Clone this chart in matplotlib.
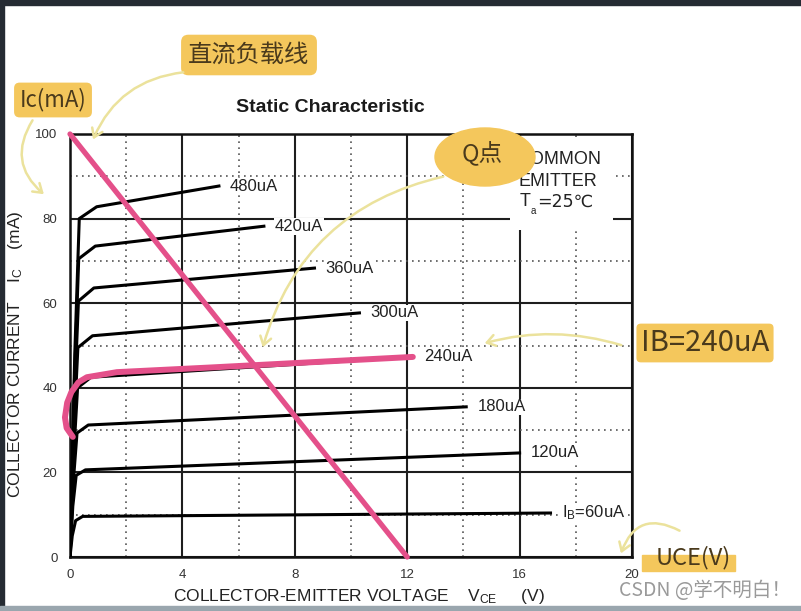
import matplotlib
matplotlib.use("Agg")
import matplotlib.pyplot as plt
from matplotlib.patches import Ellipse, FancyArrowPatch, Rectangle

plt.rcParams['font.family'] = ['Liberation Sans', 'DejaVu Sans']
plt.rcParams['mathtext.fontset'] = 'custom'
plt.rcParams['mathtext.rm'] = 'Liberation Sans'
plt.rcParams['mathtext.it'] = 'Liberation Sans'

# ---------------- data ----------------
ib_labels = [r'I$_\mathrm{B}$=60uA', '120uA', '180uA', '240uA',
             '300uA', '360uA', '420uA', '480uA']
curve_v = [
    [0.0, 0.08, 0.2, 0.45, 17.1],
    [0.0, 0.10, 0.22, 0.55, 16.0],
    [0.0, 0.12, 0.25, 0.65, 14.1],
    [0.0, 0.13, 0.27, 0.75, 12.2],
    [0.0, 0.14, 0.28, 0.80, 10.3],
    [0.0, 0.15, 0.30, 0.85, 8.7],
    [0.0, 0.16, 0.31, 0.90, 6.9],
    [0.0, 0.17, 0.33, 0.95, 5.3],
]
curve_i = [
    [0.0, 5.0, 8.6, 9.6, 10.4],
    [0.0, 12.0, 19.3, 20.6, 24.6],
    [0.0, 18.0, 29.3, 31.2, 35.5],
    [0.0, 24.0, 40.0, 42.5, 47.3],
    [0.0, 30.0, 49.5, 52.3, 57.7],
    [0.0, 36.0, 60.5, 63.6, 68.3],
    [0.0, 42.0, 70.5, 73.5, 78.2],
    [0.0, 48.0, 80.0, 82.8, 87.7],
]
# highlighted IB = 240uA curve (pink)
q_v = [0.1, -0.12, -0.18, -0.1, 0.05, 0.3, 0.6, 1.67, 5.0, 12.2]
q_i = [28.4, 30.5, 33.0, 36.5, 39.0, 41.3, 42.5, 43.7, 44.8, 47.3]
# DC load line
load_v = [0.0, 12.0]
load_i = [100.0, 0.0]

x_major = [0, 4, 8, 12, 16, 20]
x_minor = [2, 6, 10, 14, 18]
y_major = [0, 20, 40, 60, 80, 100]
y_minor = [10, 30, 50, 70, 90]

# ---------------- figure ----------------
W, H = 801, 611
fig = plt.figure(figsize=(W / 100, H / 100), dpi=100)
fig.patch.set_facecolor('white')


def px(x, y):
    return (x / W, 1 - y / H)


# screenshot frame
fig.add_artist(Rectangle((0, 1 - 5 / H), 1, 5 / H, transform=fig.transFigure,
                         color='#252b33', zorder=0))
fig.add_artist(Rectangle((0, 0), 4 / W, 1, transform=fig.transFigure,
                         color='#252b33', zorder=0))
fig.add_artist(Rectangle((0, 0), 1, 5 / H, transform=fig.transFigure,
                         color='#9aa6ae', zorder=0))

AX_L, AX_T, AX_W, AX_H = 70, 134, 562, 423
ax = fig.add_axes([AX_L / W, 1 - (AX_T + AX_H) / H, AX_W / W, AX_H / H])


def axf(x, y):
    return ((x - AX_L) / AX_W, (AX_T + AX_H - y) / AX_H)


ax.set_xlim(0, 20)
ax.set_ylim(0, 100)
ax.set_xticks(x_major)
ax.set_xticks(x_minor, minor=True)
ax.set_yticks(y_major)
ax.set_yticks(y_minor, minor=True)
ax.tick_params(which='both', length=0, labelsize=9.5, labelcolor='#333333')
ax.tick_params(axis='x', pad=9)
ax.tick_params(axis='y', pad=9)
ax.grid(which='major', color='#1e1e1e', lw=1.5, ls='-')
ax.grid(which='minor', color='#555555', lw=1.2, ls=(0, (1, 2.6)))
ax.set_axisbelow(True)
for s in ax.spines.values():
    s.set_linewidth(1.8)
    s.set_color('#111111')

for v, i, lab in zip(curve_v, curve_i, ib_labels):
    ax.plot(v, i, color='black', lw=2.2, solid_joinstyle='round', zorder=3)
    ax.annotate(lab, xy=(v[-1], i[-1]), xytext=(8, 0), textcoords='offset points',
                ha='left', va='center', fontsize=12, color='#222222', zorder=4,
                bbox=dict(boxstyle='square,pad=0.05', fc='white', ec='none'))

ax.plot(q_v, q_i, color='#e4508a', lw=4.3, solid_capstyle='round',
        solid_joinstyle='round', clip_on=False, zorder=5)
ax.plot(load_v, load_i, color='#e4508a', lw=3.8, solid_capstyle='round',
        clip_on=False, zorder=5)

# COMMON EMITTER note on a white patch
x0, y0 = axf(510, 230)
x1, y1 = axf(613, 140)
ax.add_patch(Rectangle((x0, y0), x1 - x0, y1 - y0, transform=ax.transAxes,
                       fc='white', ec='none', zorder=3.5))
ax.text(*axf(517, 160), 'COMMON', transform=ax.transAxes, ha='left', va='center',
        fontsize=13, color='#222222', zorder=4)
ax.text(*axf(518, 181), 'EMITTER', transform=ax.transAxes, ha='left', va='center',
        fontsize=13, color='#222222', zorder=4)
ax.text(*axf(520, 202), 'T', transform=ax.transAxes, ha='left', va='center',
        fontsize=13, color='#222222', zorder=4)
ax.text(*axf(531, 211), 'a', transform=ax.transAxes, ha='left', va='center',
        fontsize=7, color='#222222', zorder=4)
ax.text(*axf(537, 202), '=25\u2103', transform=ax.transAxes, ha='left', va='center',
        fontsize=12.5, color='#222222', zorder=4, family=['DejaVu Sans'])

fig.text(*px(330, 107), 'Static Characteristic', ha='center', va='center',
         fontsize=14, fontweight='bold', color='#1a1a1a')
fig.text(*px(359, 596), 'COLLECTOR-EMITTER VOLTAGE    V$_\\mathrm{CE}$     (V)',
         ha='center', va='center', fontsize=12.5, color='#222222')
fig.text(*px(16, 354), 'COLLECTOR CURRENT    I$_\\mathrm{C}$    (mA)', rotation=90,
         ha='center', va='center', fontsize=12.5, color='#222222')

# ---------------- hand-drawn style annotations ----------------
yellow = '#f4c75c'
hand = ['Noto Sans CJK SC', 'DejaVu Sans']
ink = '#4a3a1c'
arrow_c = '#ebe29c'

fig.text(*px(249, 55), '直流负载线', ha='center', va='center', fontsize=17.5,
         color=ink, family=hand,
         bbox=dict(boxstyle='round,pad=0.3', fc=yellow, ec='none'))
fig.text(*px(53, 100), 'Ic(mA)', ha='center', va='center', fontsize=16,
         color=ink, family=hand,
         bbox=dict(boxstyle='round,pad=0.25', fc=yellow, ec='none'))
fig.add_artist(Ellipse(px(485, 157), 100 / W, 58 / H, transform=fig.transFigure,
                       color=yellow, zorder=6))
fig.text(*px(482, 153), 'Q点', ha='center', va='center', fontsize=17,
         color=ink, family=hand, zorder=7)
fig.text(*px(705, 343), 'IB=240uA', ha='center', va='center', fontsize=21,
         color=ink, family=hand,
         bbox=dict(boxstyle='round,pad=0.15', fc=yellow, ec='none'))
fig.add_artist(Rectangle(px(642, 571), 93 / W, 16 / H, transform=fig.transFigure,
                         color=yellow, zorder=6))
fig.text(*px(693, 558), 'UCE(V)', ha='center', va='center', fontsize=17,
         color=ink, family=hand, zorder=7)

fig.text(*px(705, 591), 'CSDN @学不明白！', ha='center', va='center', fontsize=14,
         color='#9a9a9a', family=hand, zorder=7)

arrows = [
    ((186, 72), (92, 142), 'arc3,rad=0.3'),
    ((34, 118), (46, 196), 'arc3,rad=0.45'),
    ((446, 176), (262, 350), 'arc3,rad=0.3'),
    ((624, 346), (482, 344), 'arc3,rad=0.15'),
    ((682, 532), (620, 556), 'arc3,rad=0.6'),
]
for start, end, cs in arrows:
    fig.add_artist(FancyArrowPatch(px(*start), px(*end), transform=fig.transFigure,
                                   connectionstyle=cs, arrowstyle='->,head_length=6,head_width=4',
                                   color=arrow_c, lw=1.8, zorder=8))

fig.savefig('out.png', dpi=100)
